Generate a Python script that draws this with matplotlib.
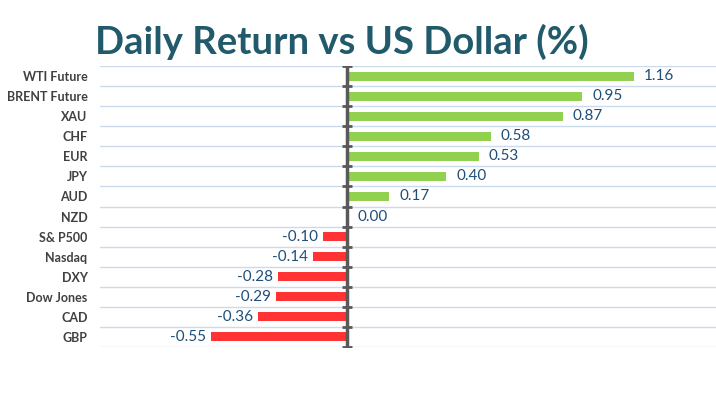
import matplotlib.pyplot as plt
import numpy as np

categories = ['WTI Future', 'BRENT Future', 'XAU', 'CHF', 'EUR', 'JPY', 'AUD',
              'NZD', 'S& P500', 'Nasdaq', 'DXY', 'Dow Jones', 'CAD', 'GBP']
returns = [1.16, 0.95, 0.87, 0.58, 0.53, 0.40, 0.17,
           0.00, -0.10, -0.14, -0.28, -0.29, -0.36, -0.55]

plt.rcParams['font.family'] = ['Lato', 'DejaVu Sans']

fig = plt.figure(figsize=(7.16, 3.96), dpi=100)
ax = fig.add_axes([0.1397, 0.1237, 0.8603, 0.7096])

y = np.arange(len(categories))
colors = ['#92D050' if v >= 0 else '#FF3333' for v in returns]
ax.barh(y, returns, height=0.45, color=colors, zorder=2)

for yi, v in zip(y, returns):
    if v >= 0:
        ax.text(v + 0.04, yi, f'{v:.2f}', va='center', ha='left',
                fontsize=11, color='#1F4E79')
    else:
        ax.text(v - 0.02, yi, f'{v:.2f}', va='center', ha='right',
                fontsize=11, color='#1F4E79')

ax.set_xlim(-1.0, 1.49)
ax.set_ylim(len(categories) - 0.5, -0.5)

ax.set_yticks(y)
ax.set_yticklabels(categories, fontsize=9, fontweight='bold', color='#404040')
ax.tick_params(axis='y', length=0, pad=9)
ax.set_xticks([])

ax.set_yticks(np.arange(-0.5, len(categories)), minor=True)
ax.tick_params(axis='y', which='minor', length=0)
ax.grid(True, which='minor', axis='y', color='#CCDAEE', lw=1, zorder=0)

for s in ax.spines.values():
    s.set_visible(False)

# zero axis with tick marks
edges = np.arange(-0.5, len(categories))
ax.plot([0, 0], [edges[0] - 0.15, edges[-1] + 0.15], color='#595959', lw=2.5,
        zorder=3, solid_capstyle='butt')
ax.plot(np.zeros(len(edges)), edges, ls='none', marker='_', ms=7, mew=2,
        color='#595959', zorder=3)

fig.text(0.477, 0.895, 'Daily Return vs US Dollar (%)', ha='center', va='center',
         fontsize=27.5, fontweight='bold', color='#215A6B')

fig.savefig('out.png', dpi=100)
